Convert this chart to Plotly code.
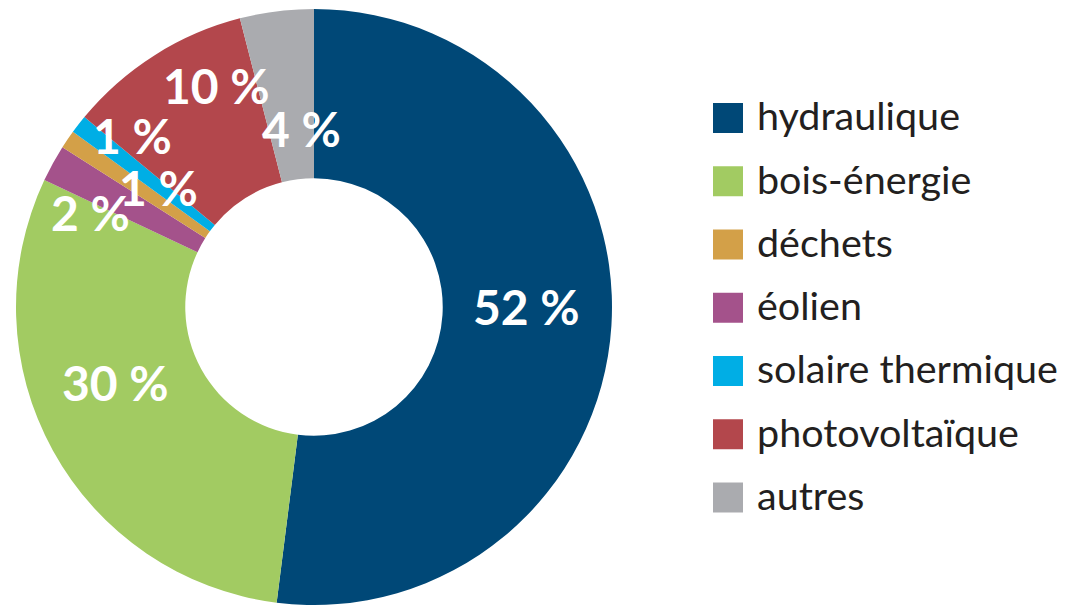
import plotly.graph_objects as go

# ---- data ----
categories = ["hydraulique", "bois-énergie", "déchets", "éolien",
              "solaire thermique", "photovoltaïque", "autres"]
values = [52, 30, 1, 2, 1, 10, 4]
colors = ["#004877", "#A2CB62", "#D3A048", "#A4528B", "#00AEE5", "#B3474C", "#AAABAF"]
# order in which slices are drawn clockwise from 12 o'clock
pie_order = ["hydraulique", "bois-énergie", "éolien", "déchets",
             "solaire thermique", "photovoltaïque", "autres"]

# ---- layout helpers ----
W, H = 1066, 605
MT = 9
PLOT_H = H - MT

def fx(p):
    return p / W

def fy(p):
    return 1 - (p - MT) / PLOT_H

# label pixel positions (layout only)
label_pos = {
    "hydraulique": (526, 306),
    "bois-énergie": (115, 382),
    "déchets": (158, 187),
    "éolien": (90, 212),
    "solaire thermique": (132, 135),
    "photovoltaïque": (216, 86),
    "autres": (301, 128),
}

idx = {c: i for i, c in enumerate(categories)}
pie_labels = pie_order
pie_values = [values[idx[c]] for c in pie_order]
pie_colors = [colors[idx[c]] for c in pie_order]

fig = go.Figure()
fig.add_trace(go.Pie(
    labels=pie_labels, values=pie_values, sort=False, direction="clockwise",
    rotation=0, hole=0.432,
    marker=dict(colors=pie_colors, line=dict(width=0)),
    textinfo="none", showlegend=False, hoverinfo="label+percent",
    domain=dict(x=[fx(15), fx(613)], y=[0, 1]),
))

# legend drawn as a scatter on hidden axes
LEG_X0 = 728          # marker centre pixel
ROW0, ROW_STEP = 118, 63.25
n = len(categories)
rows = list(range(n))
fig.add_trace(go.Scatter(
    x=[0] * n, y=rows, mode="markers",
    marker=dict(symbol="square", size=30, color=colors, line=dict(width=0)),
    showlegend=False, hoverinfo="skip",
))
fig.add_trace(go.Scatter(
    x=[29] * n, y=[r + 0.04 for r in rows], mode="text", text=categories,
    textposition="middle right",
    textfont=dict(family="Lato", size=39.5, color="#231F20"),
    showlegend=False, hoverinfo="skip",
))

y_bottom = (H - ROW0) / ROW_STEP
y_top = (MT - ROW0) / ROW_STEP
fig.update_xaxes(visible=False, range=[-LEG_X0, W - LEG_X0], domain=[0, 1], fixedrange=True)
fig.update_yaxes(visible=False, range=[y_bottom, y_top], domain=[0, 1], fixedrange=True)

annotations = []
for c in categories:
    x, y = label_pos[c]
    annotations.append(dict(
        x=fx(x), y=fy(y), xref="paper", yref="paper",
        text=f"{values[idx[c]]} %", showarrow=False,
        font=dict(family="Lato", size=48, color="white", weight="bold"),
        xanchor="center", yanchor="middle",
    ))

fig.update_layout(
    width=W, height=H,
    margin=dict(l=0, r=0, t=MT, b=0),
    paper_bgcolor="white", plot_bgcolor="rgba(0,0,0,0)",
    annotations=annotations,
    showlegend=False,
)

fig.write_html("out.html",
               config={"displayModeBar": False},
               post_script="document.body.style.margin='0';document.body.style.overflow='hidden';")
